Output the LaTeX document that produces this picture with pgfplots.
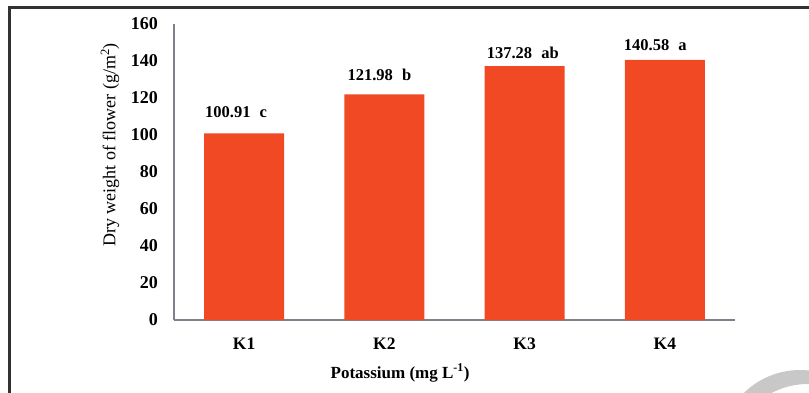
\documentclass[border=0pt]{standalone}
\usepackage{fontspec}
\setmainfont{Liberation Serif}
\usepackage{pgfplots}
\pgfplotsset{compat=1.18}
\definecolor{barred}{RGB}{240,73,35}
\definecolor{axgray}{RGB}{128,128,140}
\definecolor{framegray}{RGB}{50,50,50}
\definecolor{arcgray}{RGB}{200,200,200}
\begin{document}
\begin{tikzpicture}[x=1pt,y=1pt]
\useasboundingbox (0,0) rectangle (809,392);
\fill[arcgray, even odd rule] (800,-58) circle (80) (808,-70) circle (78);
\draw[framegray, line width=3pt] (9,-10) -- (9,384.5) -- (820,384.5);
\begin{axis}[
  at={(174pt,72pt)}, anchor=south west,
  scale only axis, width=561pt, height=296pt,
  xmin=-0.5, xmax=3.5, ymin=0, ymax=160,
  axis x line=bottom, axis y line=left,
  axis line style={-, axgray, line width=1.5pt},
  ytick={0,20,...,160}, xtick={0,1,2,3}, xticklabels={K1,K2,K3,K4},
  major tick length=0pt,
  /pgf/number format/assume math mode=true,
  yticklabel style={font=\fontsize{18}{20}\selectfont\bfseries, inner sep=0pt, anchor=east, xshift=-16pt},
  xticklabel style={font=\fontsize{17.5}{20}\selectfont\bfseries, inner sep=0pt, anchor=base, yshift=-29pt},
  ylabel={Dry weight of flower (g/m\textsuperscript{2})},
  ylabel style={font=\fontsize{18}{20}\selectfont, at={(axis description cs:-0.114,0.591)}, anchor=center},
  xlabel={Potassium (mg L\textsuperscript{-1})},
  xlabel style={font=\fontsize{17}{20}\selectfont\bfseries, at={(axis description cs:0.403,-0.179)}, anchor=center},
  ybar, bar width=80pt,
  clip=false,
]
\addplot[fill=barred, draw=none, bar shift=0pt] coordinates {(0,100.91) (1,121.98) (2,137.28) (3,140.58)};
\node[anchor=base west, inner sep=0pt, font=\fontsize{16.5}{18}\selectfont\bfseries] at (axis cs:-0.279,109.7) {100.91\hspace{0.55em}c};
\node[anchor=base west, inner sep=0pt, font=\fontsize{16.5}{18}\selectfont\bfseries] at (axis cs:0.736,129.7) {121.98\hspace{0.55em}b};
\node[anchor=base west, inner sep=0pt, font=\fontsize{16.5}{18}\selectfont\bfseries] at (axis cs:1.729,141.6) {137.28\hspace{0.55em}ab};
\node[anchor=base west, inner sep=0pt, font=\fontsize{16.5}{18}\selectfont\bfseries] at (axis cs:2.707,145.9) {140.58\hspace{0.55em}a};
\end{axis}
\end{tikzpicture}
\end{document}
